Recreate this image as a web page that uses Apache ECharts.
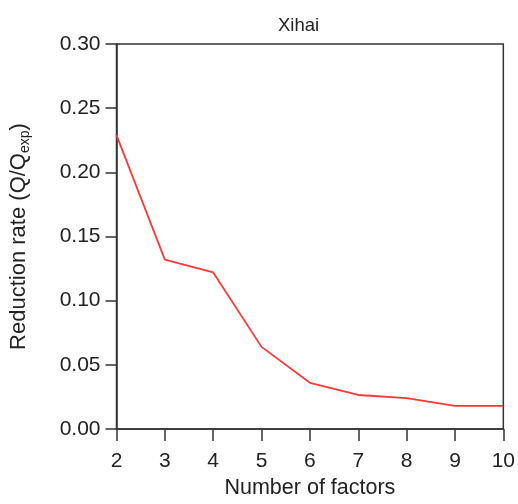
<!DOCTYPE html>
<html>
<head>
<meta charset="utf-8">
<script src="https://cdn.jsdelivr.net/npm/echarts@6/dist/echarts.min.js"></script>
<style>html,body{margin:0;padding:0;background:#fff}#c{width:518px;height:504px}</style>
</head>
<body>
<div id="c"></div>
<script>
const titleText = 'Xihai';
const factors = [2, 3, 4, 5, 6, 7, 8, 9, 10];
const reductionRate = [0.229, 0.132, 0.122, 0.064, 0.036, 0.0265, 0.024, 0.018, 0.018];
const xTicks = { min: 2, max: 10, interval: 1 };
const yTicks = { min: 0, max: 0.30, interval: 0.05 };

const FONT = 'Liberation Sans, Arial, Helvetica, sans-serif';
const AX = '#333333';
const chart = echarts.init(document.getElementById('c'), null, { renderer: 'canvas' });
chart.setOption({
  animation: false,
  backgroundColor: '#ffffff',
  title: {
    text: titleText, left: 273, top: 11,
    textStyle: { fontFamily: FONT, fontSize: 18.5, fontWeight: 'normal', color: '#222' }
  },
  grid: { left: 116, right: 12, top: 44, bottom: 71, containLabel: false,
          show: true, borderColor: AX, borderWidth: 1.5, backgroundColor: 'transparent' },
  xAxis: {
    type: 'value', min: xTicks.min, max: xTicks.max, interval: xTicks.interval,
    name: 'Number of factors', nameLocation: 'middle', nameGap: 48,
    nameTextStyle: { fontFamily: FONT, fontSize: 21.5, color: '#222' },
    axisLine: { show: true, lineStyle: { color: AX, width: 1.5 } },
    axisTick: { show: true, inside: false, length: 12, lineStyle: { color: AX, width: 1.5 } },
    axisLabel: { fontFamily: FONT, fontSize: 21, color: '#222', margin: 22 },
    splitLine: { show: false }
  },
  yAxis: {
    type: 'value', min: yTicks.min, max: yTicks.max, interval: yTicks.interval,
    name: 'Reduction rate (Q/Q{sub|exp})', nameLocation: 'middle', nameGap: 84,
    nameTextStyle: { fontFamily: FONT, fontSize: 22, color: '#222',
      rich: { sub: { fontFamily: FONT, fontSize: 14, color: '#222', verticalAlign: 'bottom', padding: [13, 0, 0, 0] } } },
    axisLine: { show: true, lineStyle: { color: AX, width: 1.5 } },
    axisTick: { show: true, inside: false, length: 11, lineStyle: { color: AX, width: 1.5 } },
    axisLabel: { fontFamily: FONT, fontSize: 21, color: '#222', margin: 16,
      formatter: v => v.toFixed(2) },
    splitLine: { show: false }
  },
  series: [{
    type: 'line',
    data: factors.map((f, i) => [f, reductionRate[i]]),
    showSymbol: false, symbol: 'none',
    lineStyle: { color: '#ff3838', width: 1.8 },
    clip: false
  }]
});
</script>
</body>
</html>
